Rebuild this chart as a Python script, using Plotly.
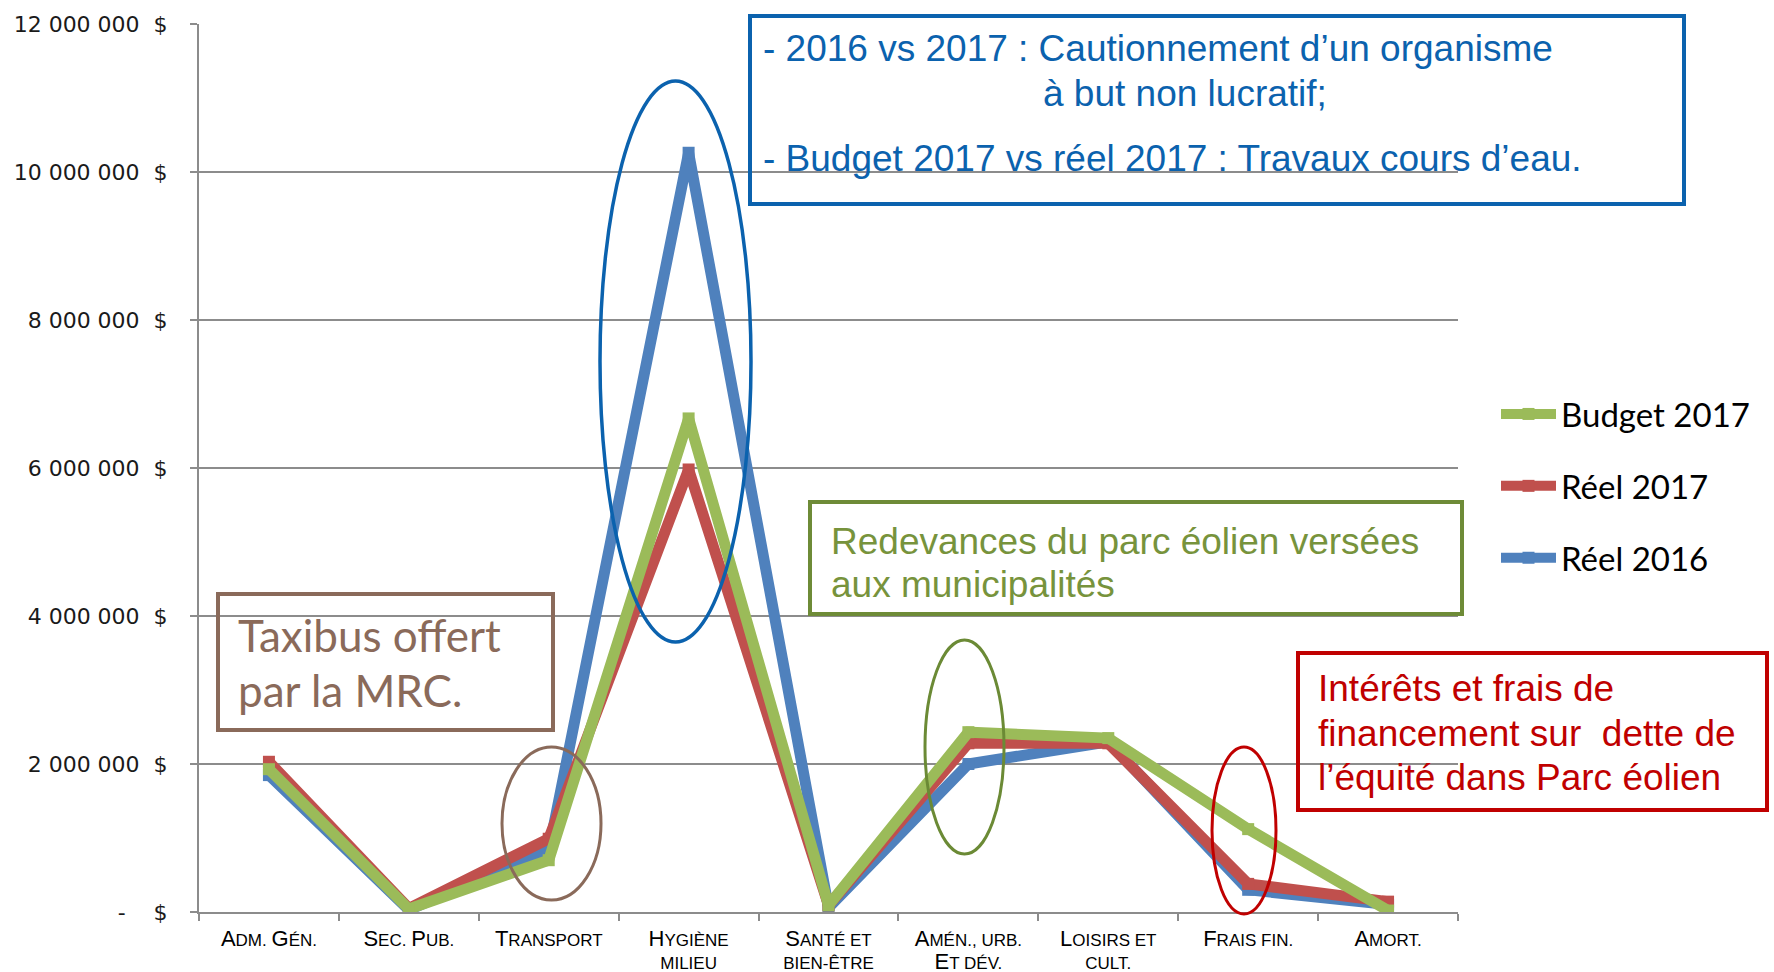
import plotly.graph_objects as go

categories = ["Adm. Gén.", "Sec. Pub.", "Transport", "Hygiène<br>milieu", "Santé et<br>bien-être",
              "Amén., urb.<br>Et dév.", "Loisirs et<br>cult.", "Frais fin.", "Amort."]
reel_2016 = [1850000, 30000, 830000, 10260000, 60000, 2000000, 2300000, 300000, 100000]
reel_2017 = [2030000, 50000, 990000, 5980000, 90000, 2280000, 2280000, 380000, 140000]
budget_2017 = [1930000, 40000, 700000, 6670000, 90000, 2430000, 2350000, 1120000, 20000]
y_ticks = [0, 2000000, 4000000, 6000000, 8000000, 10000000, 12000000]
y_ticktext = ["-\u00a0\u00a0\u00a0\u00a0$", "2 000 000\u00a0\u00a0$", "4 000 000\u00a0\u00a0$",
              "6 000 000\u00a0\u00a0$", "8 000 000\u00a0\u00a0$", "10 000 000\u00a0\u00a0$",
              "12 000 000\u00a0\u00a0$"]

W, H = 1774, 972
L, R, T, B = 199, 1458, 24, 912  # plot area in window pixels


def px(x):
    return (x - L) / (R - L)


def py(y):
    return (B - y) / (B - T)


def smallcaps(s, big=22, small=17):
    out = []
    for line in s.split("<br>"):
        parts = []
        for ch in line:
            if ch.isupper():
                parts.append(f"<span style='font-size:{big}px'>{ch}</span>")
            elif ch.isalpha():
                parts.append(f"<span style='font-size:{small}px'>{ch.upper()}</span>")
            else:
                parts.append(f"<span style='font-size:{small}px'>{ch}</span>")
        out.append("".join(parts))
    return "<br>".join(out)


fig = go.Figure()
series = [("Réel 2016", reel_2016, "#4F81BD", 3),
          ("Réel 2017", reel_2017, "#C0504D", 2),
          ("Budget 2017", budget_2017, "#9BBB59", 1)]
for name, vals, col, rank in series:
    fig.add_trace(go.Scatter(
        x=categories, y=vals, name=name, mode="lines+markers",
        line=dict(color=col, width=11, shape="linear"),
        marker=dict(symbol="square", size=12, color=col),
        legendgroup=name, legendrank=rank,
    ))

grid = "#8C8C8C"
fig.update_layout(
    width=W, height=H,
    margin=dict(l=L, r=W - R, t=T, b=H - B, autoexpand=False),
    paper_bgcolor="white", plot_bgcolor="white",
    showlegend=True,
    legend=dict(x=px(1496), y=py(386), xanchor="left", yanchor="top",
                traceorder="grouped", tracegroupgap=26, itemwidth=55,
                font=dict(family="Lato, Open Sans, sans-serif", size=33, color="black"),
                bgcolor="rgba(0,0,0,0)"),
    xaxis=dict(type="category", range=[-0.5, 8.5], showgrid=False, showline=True,
               linecolor=grid, linewidth=2, ticks="outside", tickson="boundaries",
               ticklen=7, tickcolor=grid, tickwidth=1.5, ticklabelstandoff=12,
               tickvals=categories, ticktext=[smallcaps(c) for c in categories],
               tickfont=dict(family="Liberation Sans, Arial, sans-serif", size=17, color="black")),
    yaxis=dict(range=[0, 12000000], tickvals=y_ticks, ticktext=y_ticktext,
               showgrid=True, gridcolor=grid, gridwidth=1.5, zeroline=False,
               showline=True, linecolor=grid, linewidth=2, ticks="outside",
               ticklen=7, tickcolor=grid, tickwidth=1.5, ticklabelstandoff=18,
               tickfont=dict(family="DejaVu Sans, sans-serif", size=22, color="#1a1a1a")),
)

narrow = "Liberation Sans Narrow, Arial Narrow, Liberation Sans"
blue = "#0B62AE"
green = "#77933C"
brown = "#8A6A5A"
red = "#C00000"

shapes = [
    ("rect", 750, 16, 1684, 204, blue, 4),
    ("circle", 600, 81, 751, 642, blue, 3.5),
    ("rect", 810, 502, 1462, 614, "#6E8B37", 4),
    ("circle", 925, 640, 1004, 854, "#6B8A35", 3),
    ("rect", 218, 594, 553, 730, brown, 4),
    ("circle", 502, 747, 601, 900, brown, 3),
    ("rect", 1298, 653, 1767, 810, red, 4),
    ("circle", 1212, 747, 1276, 914, red, 3),
]
for kind, x0, y0, x1, y1, col, w in shapes:
    fig.add_shape(type=kind, xref="paper", yref="paper",
                  x0=px(x0), x1=px(x1), y0=py(y1), y1=py(y0),
                  line=dict(color=col, width=w), fillcolor="rgba(0,0,0,0)", layer="above")

texts = [
    ("- 2016 vs 2017 : Cautionnement d\u2019un organisme", 761, 49, blue, narrow, 37),
    ("à but non lucratif;", 1041, 94, blue, narrow, 37),
    ("- Budget 2017 vs réel 2017 : Travaux cours d\u2019eau.", 761, 158, blue, narrow, 37),
    ("Redevances du parc éolien versées", 829, 541, green, narrow, 37),
    ("aux municipalités", 829, 584, green, narrow, 37),
    ("Taxibus offert", 236, 635, brown, "Lato, Open Sans, sans-serif", 44),
    ("par la MRC.", 236, 690, brown, "Lato, Open Sans, sans-serif", 44),
    ("Intérêts et frais de", 1316, 688, red, narrow, 37),
    ("financement sur \u00a0dette de", 1316, 733, red, narrow, 37),
    ("l\u2019équité dans Parc éolien", 1316, 777, red, narrow, 37),
]
for t, x, y, col, fam, size in texts:
    fig.add_annotation(text=t, xref="paper", yref="paper", x=px(x), y=py(y),
                       xanchor="left", yanchor="middle", showarrow=False,
                       font=dict(family=fam, size=size, color=col))

fig.write_html("out.html", config={"displayModeBar": False},
               post_script="document.body.style.margin='0';document.body.style.overflow='hidden';")
